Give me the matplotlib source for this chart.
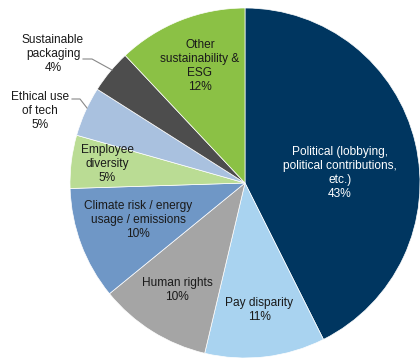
import matplotlib
matplotlib.use("Agg")
import matplotlib.pyplot as plt

categories = ["Political (lobbying,\npolitical contributions,\netc.)", "Pay disparity", "Human rights",
              "Climate risk / energy\nusage / emissions", "Employee\ndiversity", "Ethical use\nof tech",
              "Sustainable\npackaging", "Other\nsustainability &\nESG"]
values = [42.6, 11.1, 10.4, 10.4, 4.9, 4.6, 4.0, 12.0]
colors = ["#003660", "#A9D3F0", "#A5A5A5", "#6F97C6", "#BADC94", "#A9C1DF", "#4D4D4D", "#8BC145"]
text_colors = ["white", "#1a1a1a", "#1a1a1a", "#1a1a1a", "#1a1a1a", "#1a1a1a", "#1a1a1a", "#1a1a1a"]
# label positions in image pixel coords (x, y from top)
label_pos = [(340, 173), (259, 310), (177, 290), (138, 220), (107, 164), (40, 111), (53, 54), (200, 66)]

plt.rcParams['font.family'] = ['Liberation Sans', 'DejaVu Sans']
W, H = 420, 358
fig = plt.figure(figsize=(W / 100, H / 100), dpi=100)
ax = fig.add_axes([0, 0, 1, 1])

cx, cy, r = 245, H - 183, 175
ax.pie(values, colors=colors, startangle=90, counterclock=False, center=(cx, cy), radius=r,
       wedgeprops=dict(edgecolor='white', linewidth=0.5), frame=True)
ax.set_xlim(0, W)
ax.set_ylim(0, H)
ax.set_aspect('equal')
ax.axis('off')

total = sum(values)
for cat, v, (x, y), tc in zip(categories, values, label_pos, text_colors):
    ax.text(x, H - y, f"{cat}\n{round(100 * v / total):.0f}%", ha='center', va='center',
            fontsize=8.6, color=tc, linespacing=1.2)

# leader lines
ax.plot([83, 92, 112], [H - 59, H - 59, H - 70], color='#888888', lw=0.8)
ax.plot([72, 80, 87], [H - 99, H - 99, H - 108], color='#888888', lw=0.8)

fig.savefig("out.png", dpi=100)
